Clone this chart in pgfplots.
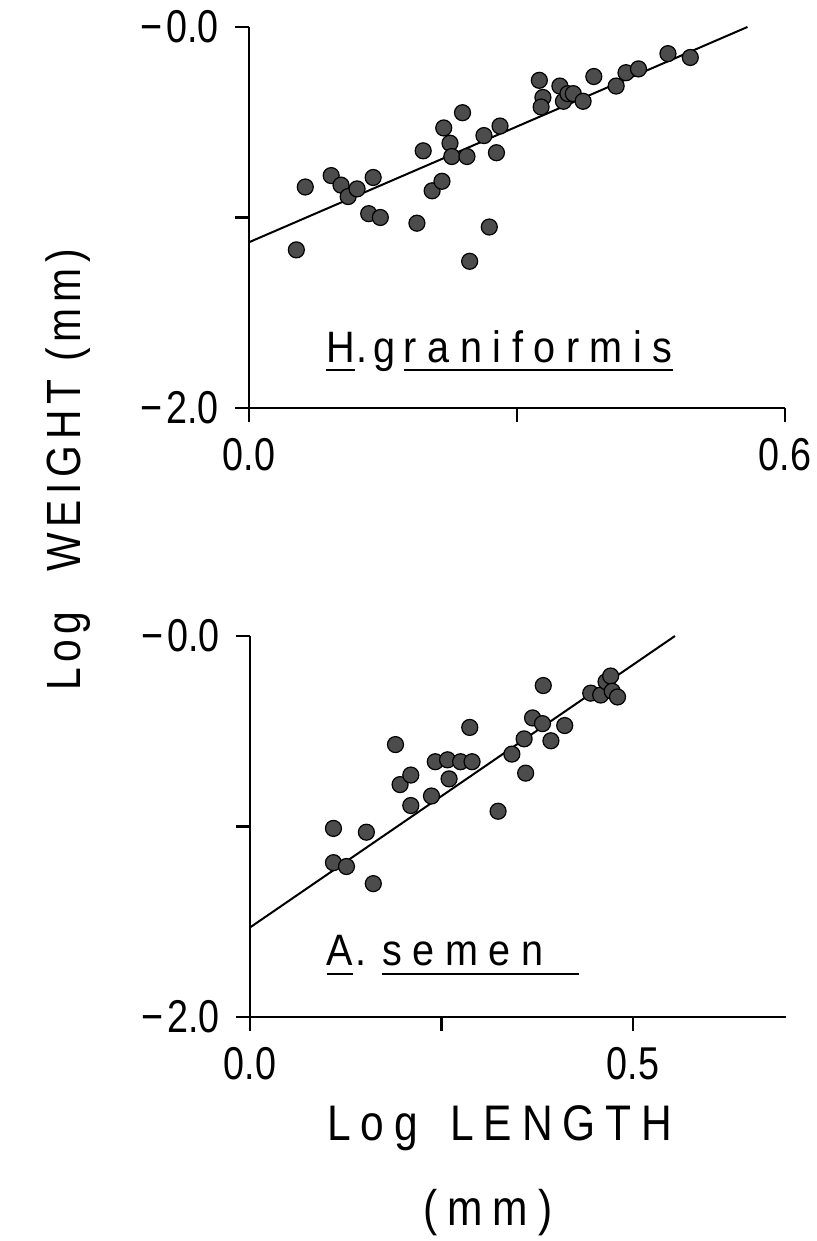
\documentclass[border=0pt]{standalone}
\usepackage{fontspec}
\usepackage{pgfplots}
\pgfplotsset{compat=1.18}
\setmainfont{Liberation Sans}
\newfontfamily\tickfont[FakeStretch=0.82]{Liberation Sans}
\newfontfamily\specfont[FakeStretch=0.9,LetterSpace=24]{Liberation Sans}
\newfontfamily\labfont[FakeStretch=0.85,LetterSpace=20]{Liberation Sans}
\newfontfamily\ylabfont[FakeStretch=0.85,LetterSpace=12]{Liberation Sans}

% underline drawn a little below the baseline, with optional extra length
\newcommand\ul[2][0pt]{\setbox0\hbox{#2}\rlap{\rule[-4.5pt]{\dimexpr\wd0+#1\relax}{0.9pt}}\box0}

% H. graniformis
\pgfplotstableread{
x y
0.053 -1.17
0.063 -0.84
0.092 -0.78
0.103 -0.83
0.111 -0.89
0.121 -0.85
0.139 -0.79
0.134 -0.98
0.147 -1.00
0.188 -1.03
0.195 -0.65
0.205 -0.86
0.216 -0.81
0.239 -0.45
0.218 -0.53
0.225 -0.61
0.227 -0.68
0.244 -0.68
0.263 -0.57
0.281 -0.52
0.277 -0.66
0.269 -1.05
0.247 -1.23
0.325 -0.28
0.329 -0.37
0.327 -0.42
0.348 -0.31
0.352 -0.39
0.357 -0.35
0.363 -0.35
0.374 -0.39
0.386 -0.26
0.411 -0.31
0.422 -0.24
0.436 -0.22
0.469 -0.14
0.494 -0.16
}\hgran

% A. semen
\pgfplotstableread{
x y
0.109 -1.01
0.152 -1.03
0.109 -1.19
0.126 -1.21
0.161 -1.30
0.190 -0.57
0.196 -0.78
0.210 -0.73
0.210 -0.89
0.237 -0.84
0.260 -0.75
0.242 -0.66
0.258 -0.65
0.275 -0.66
0.290 -0.66
0.287 -0.48
0.324 -0.92
0.342 -0.62
0.358 -0.54
0.360 -0.72
0.369 -0.43
0.382 -0.46
0.383 -0.26
0.393 -0.55
0.411 -0.47
0.445 -0.30
0.458 -0.31
0.465 -0.24
0.471 -0.21
0.473 -0.29
0.480 -0.32
}\asemen

\pgfplotsset{
  panel/.style={
    anchor=south west,
    scale only axis,
    width=268pt, height=190.5pt,
    ymin=-2, ymax=0,
    axis lines=left,
    axis line style={-, line width=1.1pt},
    tick align=outside,
    major tick length=7pt,
    tick style={line width=1.1pt, black},
    ytick={-2,-1,0},
    yticklabels={−\kern2pt2.0,,−\kern2pt0.0},
    tick label style={font=\tickfont\fontsize{23}{23}\selectfont},
    xticklabel style={inner sep=0pt, yshift=-8pt},
    yticklabel style={inner sep=0pt, xshift=-8pt},
    clip=false,
  },
  dots/.style={only marks, mark=*, mark size=4pt,
    mark options={fill=black!70, draw=black, line width=0.6pt}},
  fit/.style={no marks, black, line width=1pt},
}

\begin{document}
\begin{tikzpicture}[x=1pt,y=1pt]
\path[use as bounding box] (0,0) rectangle (408.5,620.5);

\begin{axis}[panel, at={(124.5pt,416.5pt)},
  xmin=0, xmax=0.6, xtick={0,0.3,0.6}, xticklabels={0.0,,0.6}]
  \addplot[dots] table[x=x,y=y] {\hgran};
  \addplot[fit] coordinates {(0,-1.13) (0.558,0)};
  \node[anchor=base west, inner sep=0pt, font=\specfont\fontsize{22}{22}\selectfont]
    at (axis cs:0.086,-1.76) {\ul{H}\kern1pt.\kern3pt g\kern4pt\ul{raniformis}};
\end{axis}

\begin{axis}[panel, at={(125pt,112pt)},
  xmin=0, xmax=0.7, xtick={0,0.25,0.5}, xticklabels={0.0,,0.5}]
  \addplot[dots] table[x=x,y=y] {\asemen};
  \addplot[fit] coordinates {(0,-1.53) (0.555,0)};
  \node[anchor=base west, inner sep=0pt, font=\specfont\fontsize{22}{22}\selectfont]
    at (axis cs:0.1,-1.73) {\ul{A}\kern1pt.\kern8pt\ul[18pt]{semen}};
\end{axis}

% axis titles
\node[rotate=90, anchor=base, inner sep=0pt, font=\ylabfont\fontsize{24}{24}\selectfont]
  at (40,385.5) {Log\hspace{20pt}WEIGHT\hspace{9pt}(mm)};
\node[anchor=base, inner sep=0pt, font=\labfont\fontsize{25}{25}\selectfont]
  at (250,50) {Log\hspace{16pt}LENGTH};
\node[anchor=base, inner sep=0pt, font=\labfont\fontsize{25}{25}\selectfont]
  at (244,8) {(mm)};
\end{tikzpicture}
\end{document}
